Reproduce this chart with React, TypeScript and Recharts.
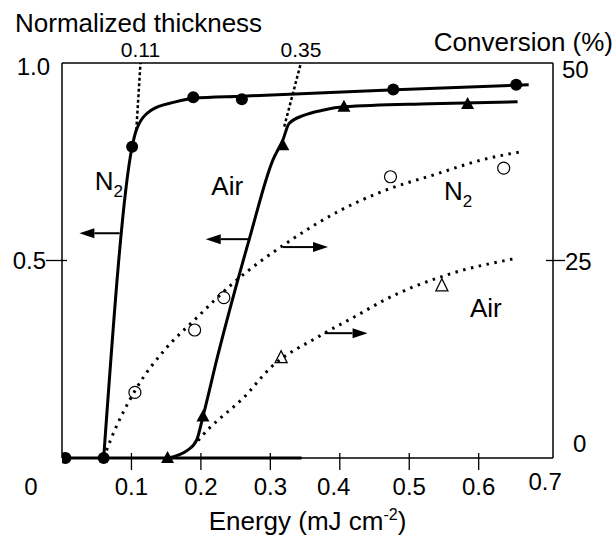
import {
  ComposedChart,
  Line,
  ReferenceDot,
  ReferenceLine,
  Scatter,
  XAxis,
  YAxis,
} from "recharts";

const FONT = '"Liberation Sans", Arial, Helvetica, sans-serif';

// energy (mJ cm-2) vs normalized thickness, N2 — filled circles
const thickN2Points = [
  { x: 0.005, y: 0 },
  { x: 0.06, y: 0 },
  { x: 0.101, y: 0.788 },
  { x: 0.189, y: 0.913 },
  { x: 0.259, y: 0.908 },
  { x: 0.477, y: 0.933 },
  { x: 0.654, y: 0.945 },
];
const thickN2Curve = [
  { x: 0.06, y: 0 },
  { x: 0.101, y: 0.788 },
  { x: 0.107, y: 0.83 },
  { x: 0.129, y: 0.881 },
  { x: 0.162, y: 0.901 },
  { x: 0.189, y: 0.911 },
  { x: 0.26, y: 0.916 },
  { x: 0.48, y: 0.932 },
  { x: 0.672, y: 0.945 },
];

// normalized thickness, air — filled triangles
const thickAirPoints = [
  { x: 0.152, y: 0 },
  { x: 0.203, y: 0.105 },
  { x: 0.318, y: 0.792 },
  { x: 0.406, y: 0.889 },
  { x: 0.584, y: 0.896 },
];
const thickAirCurve = [
  { x: 0.152, y: 0 },
  { x: 0.181, y: 0.02 },
  { x: 0.194, y: 0.046 },
  { x: 0.203, y: 0.105 },
  { x: 0.224, y: 0.257 },
  { x: 0.27, y: 0.556 },
  { x: 0.3036, y: 0.754 },
  { x: 0.318, y: 0.805 },
  { x: 0.327, y: 0.847 },
  { x: 0.349, y: 0.868 },
  { x: 0.377, y: 0.881 },
  { x: 0.406, y: 0.889 },
  { x: 0.53, y: 0.897 },
  { x: 0.656, y: 0.902 },
];

// conversion (%), N2 — open circles
const convN2Points = [
  { x: 0.105, y: 8.3 },
  { x: 0.191, y: 16.2 },
  { x: 0.233, y: 20.3 },
  { x: 0.473, y: 35.6 },
  { x: 0.636, y: 36.7 },
];
const convN2Curve = [
  { x: 0.06, y: 0 },
  { x: 0.071, y: 2.5 },
  { x: 0.107, y: 8.8 },
  { x: 0.148, y: 13.7 },
  { x: 0.191, y: 17.5 },
  { x: 0.246, y: 22.1 },
  { x: 0.33, y: 27.6 },
  { x: 0.402, y: 31.4 },
  { x: 0.457, y: 33.6 },
  { x: 0.541, y: 36.0 },
  { x: 0.603, y: 37.7 },
  { x: 0.663, y: 38.8 },
];

// conversion (%), air — open triangles
const convAirPoints = [
  { x: 0.3155, y: 12.7 },
  { x: 0.547, y: 21.8 },
];
const convAirCurve = [
  { x: 0.196, y: 2.2 },
  { x: 0.21, y: 3.6 },
  { x: 0.23, y: 5.2 },
  { x: 0.26, y: 7.5 },
  { x: 0.3, y: 11.4 },
  { x: 0.37, y: 15.4 },
  { x: 0.43, y: 18.3 },
  { x: 0.46, y: 19.8 },
  { x: 0.555, y: 23.2 },
  { x: 0.656, y: 25.3 },
];

const baseline = [
  { x: 0, y: 0 },
  { x: 0.345, y: 0 },
];

// extrapolated threshold energies
const thresholds = [
  { label: "0.11", x1: 0.107, y1: 0.83, x2: 0.113, y2: 1 },
  { label: "0.35", x1: 0.32, y1: 0.839, x2: 0.344, y2: 1 },
];

const thickArrows = [
  { x1: 0.083, x2: 0.025, y: 0.569 },
  { x1: 0.268, x2: 0.207, y: 0.554 },
];
const convArrows = [
  { x1: 0.318, x2: 0.383, y: 26.7 },
  { x1: 0.378, x2: 0.44, y: 15.8 },
];

const thickLabels = [
  { text: "N", sub: "2", x: 0.047, y: 0.678 },
  { text: "Air", sub: "", x: 0.215, y: 0.666 },
];
const convLabels = [
  { text: "N", sub: "2", x: 0.55, y: 32.7 },
  { text: "Air", sub: "", x: 0.5875, y: 17.9 },
];

const energyTicks = [0, 0.1, 0.2, 0.3, 0.4, 0.5, 0.6, 0.7];
const thickTicks = [0.5, 1];
const convTicks = [0, 25, 50];

const textStyle = { fontFamily: FONT, fill: "#000" };

const EnergyTick = (props: any) => {
  const { x, y, payload } = props;
  const v = payload.value;
  const dx = v === 0 ? -31 : v === 0.4 ? -6 : v === 0.7 ? -3 : 0;
  const dy = v === 0.7 ? 32 : 37;
  return (
    <g>
      {v > 0.05 && v < 0.65 && (
        <line x1={x} x2={x} y1={y - 5} y2={y + 12} stroke="#000" strokeWidth={1.3} />
      )}
      <text x={x + dx} y={y + dy} textAnchor="middle" fontSize={24} style={textStyle}>
        {v === 0 ? "0" : v.toFixed(1)}
      </text>
    </g>
  );
};

const ThickTick = (props: any) => {
  const { x, y, payload } = props;
  const v = payload.value;
  if (v === 1) {
    return (
      <text x={x - 12} y={y + 12} textAnchor="end" fontSize={24} style={textStyle}>
        1.0
      </text>
    );
  }
  return (
    <g>
      <line x1={x - 16} x2={x + 5} y1={y} y2={y} stroke="#000" strokeWidth={1.3} />
      <text x={x - 16} y={y + 8} textAnchor="end" fontSize={24} style={textStyle}>
        {v.toFixed(1)}
      </text>
    </g>
  );
};

const ConvTick = (props: any) => {
  const { x, y, payload } = props;
  const v = payload.value;
  if (v === 50) {
    return (
      <text x={x + 9} y={y + 15} fontSize={24} style={textStyle}>
        50
      </text>
    );
  }
  if (v === 0) {
    return (
      <text x={x + 20} y={y - 6} fontSize={24} style={textStyle}>
        0
      </text>
    );
  }
  return (
    <g>
      <line x1={x - 7} x2={x + 12} y1={y} y2={y} stroke="#000" strokeWidth={1.3} />
      <text x={x + 12} y={y + 9} fontSize={24} style={textStyle}>
        {v}
      </text>
    </g>
  );
};

const Arrow = (props: any) => {
  const { x1, y1, x2, y2 } = props;
  const dir = x2 > x1 ? 1 : -1;
  const head = 15;
  return (
    <g>
      <line x1={x1} y1={y1} x2={x2 - dir * head} y2={y2} stroke="#000" strokeWidth={2} />
      <polygon
        points={`${x2},${y2} ${x2 - dir * head},${y2 - 5} ${x2 - dir * head},${y2 + 5}`}
        fill="#000"
      />
    </g>
  );
};

const filledCircle = (p: any) => <circle cx={p.cx} cy={p.cy} r={6} fill="#000" />;
const openCircle = (p: any) => (
  <circle cx={p.cx} cy={p.cy} r={6} fill="none" stroke="#000" strokeWidth={1.2} />
);
const filledTriangle = (p: any) => (
  <polygon
    points={`${p.cx},${p.cy - 7} ${p.cx - 6.5},${p.cy + 5} ${p.cx + 6.5},${p.cy + 5}`}
    fill="#000"
  />
);
const openTriangle = (p: any) => (
  <polygon
    points={`${p.cx},${p.cy - 7} ${p.cx - 6},${p.cy + 5} ${p.cx + 6},${p.cy + 5}`}
    fill="none"
    stroke="#000"
    strokeWidth={1.3}
  />
);

const seriesLabel = (text: string, sub: string) => (p: any) => (
  <text x={p.cx} y={p.cy} fontSize={26} style={textStyle}>
    {text}
    {sub && (
      <tspan fontSize={17} dy={7}>
        {sub}
      </tspan>
    )}
  </text>
);

const thresholdLabel = (text: string) => (p: any) => (
  <text x={p.cx} y={p.cy - 6} textAnchor="middle" fontSize={21} style={textStyle}>
    {text}
  </text>
);

export default function App() {
  return (
    <div style={{ position: "fixed", left: 0, top: 0, background: "#fff" }}>
      <ComposedChart
        width={615}
        height={535}
        margin={{ top: 63, right: 12, bottom: 37, left: 12 }}>
        <XAxis
          xAxisId="e"
          type="number"
          dataKey="x"
          domain={[0, 0.707]}
          allowDataOverflow
          ticks={energyTicks}
          interval={0}
          height={40}
          tickSize={0}
          tickMargin={0}
          tickLine={false}
          tick={EnergyTick}
          axisLine={{ stroke: "#000", strokeWidth: 1.5 }}
          label={(p: any) => {
            const vb = p.viewBox;
            return (
              <text
                x={vb.x + vb.width / 2}
                y={vb.y + 72}
                textAnchor="middle"
                fontSize={26}
                style={textStyle}>
                Energy (mJ cm
                <tspan fontSize={16} dy={-10}>
                  -2
                </tspan>
                <tspan dy={10}>)</tspan>
              </text>
            );
          }}
        />
        <YAxis
          yAxisId="t"
          type="number"
          domain={[0, 1]}
          ticks={thickTicks}
          interval={0}
          width={50}
          tickSize={0}
          tickMargin={0}
          tickLine={false}
          tick={ThickTick}
          axisLine={{ stroke: "#000", strokeWidth: 1.5 }}
          label={(p: any) => {
            const vb = p.viewBox;
            return (
              <text x={vb.x + 3} y={vb.y - 31} fontSize={26} style={textStyle}>
                Normalized thickness
              </text>
            );
          }}
        />
        <YAxis
          yAxisId="c"
          orientation="right"
          type="number"
          domain={[0, 50]}
          ticks={convTicks}
          interval={0}
          width={50}
          tickSize={0}
          tickMargin={0}
          tickLine={false}
          tick={ConvTick}
          axisLine={{ stroke: "#000", strokeWidth: 1.5 }}
          label={(p: any) => {
            const vb = p.viewBox;
            return (
              <text x={613} y={vb.y - 12} textAnchor="end" fontSize={26} style={textStyle}>
                Conversion (%)
              </text>
            );
          }}
        />

        <ReferenceLine xAxisId="e" yAxisId="t" y={1} stroke="#000" strokeWidth={1.5} />

        {thresholds.map((t) => (
          <ReferenceLine
            key={t.label}
            xAxisId="e"
            yAxisId="t"
            segment={[
              { x: t.x1, y: t.y1 },
              { x: t.x2, y: t.y2 },
            ]}
            stroke="#000"
            strokeWidth={2.5}
            strokeDasharray="3 2.5"
          />
        ))}
        {thresholds.map((t) => (
          <ReferenceDot
            key={`l${t.label}`}
            xAxisId="e"
            yAxisId="t"
            x={t.x2}
            y={t.y2}
            r={0}
            ifOverflow="visible"
            shape={thresholdLabel(t.label)}
          />
        ))}

        <Line
          xAxisId="e"
          yAxisId="c"
          data={convN2Curve}
          dataKey="y"
          type="monotone"
          stroke="#000"
          strokeWidth={3}
          strokeDasharray="2.5 5.5"
          dot={false}
          isAnimationActive={false}
        />
        <Line
          xAxisId="e"
          yAxisId="c"
          data={convAirCurve}
          dataKey="y"
          type="monotone"
          stroke="#000"
          strokeWidth={3}
          strokeDasharray="2.5 5.5"
          dot={false}
          isAnimationActive={false}
        />
        <Line
          xAxisId="e"
          yAxisId="t"
          data={baseline}
          dataKey="y"
          type="linear"
          stroke="#000"
          strokeWidth={3}
          dot={false}
          isAnimationActive={false}
        />
        <Line
          xAxisId="e"
          yAxisId="t"
          data={thickN2Curve}
          dataKey="y"
          type="monotone"
          stroke="#000"
          strokeWidth={3}
          dot={false}
          isAnimationActive={false}
        />
        <Line
          xAxisId="e"
          yAxisId="t"
          data={thickAirCurve}
          dataKey="y"
          type="monotone"
          stroke="#000"
          strokeWidth={3}
          dot={false}
          isAnimationActive={false}
        />

        <Scatter
          xAxisId="e"
          yAxisId="t"
          data={thickN2Points}
          dataKey="y"
          shape={filledCircle}
          isAnimationActive={false}
        />
        <Scatter
          xAxisId="e"
          yAxisId="t"
          data={thickAirPoints}
          dataKey="y"
          shape={filledTriangle}
          isAnimationActive={false}
        />
        <Scatter
          xAxisId="e"
          yAxisId="c"
          data={convN2Points}
          dataKey="y"
          shape={openCircle}
          isAnimationActive={false}
        />
        <Scatter
          xAxisId="e"
          yAxisId="c"
          data={convAirPoints}
          dataKey="y"
          shape={openTriangle}
          isAnimationActive={false}
        />

        {thickArrows.map((a, i) => (
          <ReferenceLine
            key={`ta${i}`}
            xAxisId="e"
            yAxisId="t"
            segment={[
              { x: a.x1, y: a.y },
              { x: a.x2, y: a.y },
            ]}
            shape={Arrow}
          />
        ))}
        {convArrows.map((a, i) => (
          <ReferenceLine
            key={`ca${i}`}
            xAxisId="e"
            yAxisId="c"
            segment={[
              { x: a.x1, y: a.y },
              { x: a.x2, y: a.y },
            ]}
            shape={Arrow}
          />
        ))}

        {thickLabels.map((l) => (
          <ReferenceDot
            key={`tl${l.x}`}
            xAxisId="e"
            yAxisId="t"
            x={l.x}
            y={l.y}
            r={0}
            shape={seriesLabel(l.text, l.sub)}
          />
        ))}
        {convLabels.map((l) => (
          <ReferenceDot
            key={`cl${l.x}`}
            xAxisId="e"
            yAxisId="c"
            x={l.x}
            y={l.y}
            r={0}
            shape={seriesLabel(l.text, l.sub)}
          />
        ))}
      </ComposedChart>
    </div>
  );
}
